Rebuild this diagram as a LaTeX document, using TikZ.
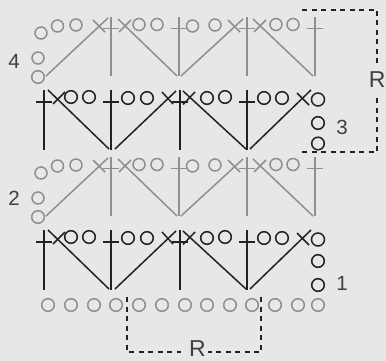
\documentclass[tikz,border=0pt]{standalone}
\usepackage{fontspec}
\setmainfont{Liberation Sans}
\definecolor{bg}{HTML}{E6E7E9}
\definecolor{gr}{HTML}{8F8F8F}
\definecolor{bk}{HTML}{222222}
\tikzset{
  grayline/.style={draw=gr,line width=1.5pt},
  blackline/.style={draw=bk,line width=1.5pt},
  dash box/.style={draw=bk,line width=1.3pt,dash pattern=on 5pt off 4.5pt},
  lab/.style={inner sep=0pt,font=\fontsize{20.5pt}{20.5pt}\selectfont,text=bk!85!bg},
  bigr/.style={inner sep=0pt,font=\fontsize{23pt}{23pt}\selectfont,text=bk!85!bg},
}
\begin{document}
\begin{tikzpicture}[x=1pt,y=-1pt]
\path[fill=bg] (0,0) rectangle (386,361);
\path[use as bounding box] (0,0) rectangle (386,361);
% gray rows
\foreach \dy in {0,140}{
\begin{scope}[shift={(0,\dy)},grayline]
  \foreach \x/\y in {41/33,57.5/26,76/25,139/24.5,157/24.5,192.5/26,215/25,276/24.5,293/24.5}
    \draw (\x,\y) circle (6);
  \draw (38,58) circle (6);
  \draw (38,77) circle (6.3);
  \foreach \x in {111,179,247,315}{
    \draw (\x,17) -- (\x,76);
    \draw (\x-8,28.5) -- (\x+8,28.5);
  }
  \draw (46,76) -- (108,18);
  \draw (118,19) -- (177,76);
  \draw (181,76) -- (243,19);
  \draw (253,19) -- (313,76);
  \draw (93,20) -- (105,32);
  \draw (119,32) -- (131,20);
  \draw (228,20) -- (240,32);
  \draw (254,32) -- (266,20);
\end{scope}}
% black rows
\foreach \dy in {0,140}{
\begin{scope}[shift={(0,\dy)},blackline]
  \foreach \x/\y in {71/97,89/97,128/98,147/98,207/98,225/97,264/98,282/98}
    \draw (\x,\y) circle (6.3);
  \foreach \x in {44,111,180,247}{
    \draw (\x,90) -- (\x,150);
    \draw (\x-8,102) -- (\x+8,102);
  }
  \draw (48,90) -- (109,149);
  \draw (115,149) -- (176,91);
  \draw (183,91) -- (246,149);
  \draw (250,149) -- (311,90);
  \draw (53,104) -- (65,92);
  \draw (162,92) -- (173,104);
  \draw (183,104.5) -- (195,92);
  \draw (297,93) -- (309,105);
  \draw (318,99.5) circle (6.5);
\end{scope}}
\foreach \y in {123,143.5,261,285}
  \draw[blackline] (318,\y) circle (6.3);
% foundation
\foreach \x in {48,71,94,116,139,162,185,207,230,252,275,298,318}
  \draw[grayline] (\x,305) circle (6.3);
% repeats
\coordinate (ra) at (302,10);
\coordinate (rb) at (377,10);
\coordinate (rc) at (377,63);
\coordinate (rd) at (377,98);
\coordinate (re) at (377,152);
\coordinate (rf) at (302,152);
\coordinate (sa) at (127,297);
\coordinate (sb) at (127,352);
\coordinate (sc) at (181,352);
\coordinate (sd) at (208,352);
\coordinate (se) at (261,352);
\coordinate (sf) at (261,297);
\draw[dash box] (ra) -- (rb) -- (rc);
\draw[dash box] (rf) -- (re) -- (rd);
\draw[dash box] (sa) -- (sb) -- (sc);
\draw[dash box] (sf) -- (se) -- (sd);
\node[bigr,anchor=base east] (rtop) at (385.8,88) {R};
\node[bigr,anchor=base] (rbot) at (197.5,356) {R};
\node[lab] (n4) at (14,61) {4};
\node[lab] (n3) at (342,127) {3};
\node[lab] (n2) at (14,198) {2};
\node[lab] (n1) at (342,283) {1};
\end{tikzpicture}
\end{document}
